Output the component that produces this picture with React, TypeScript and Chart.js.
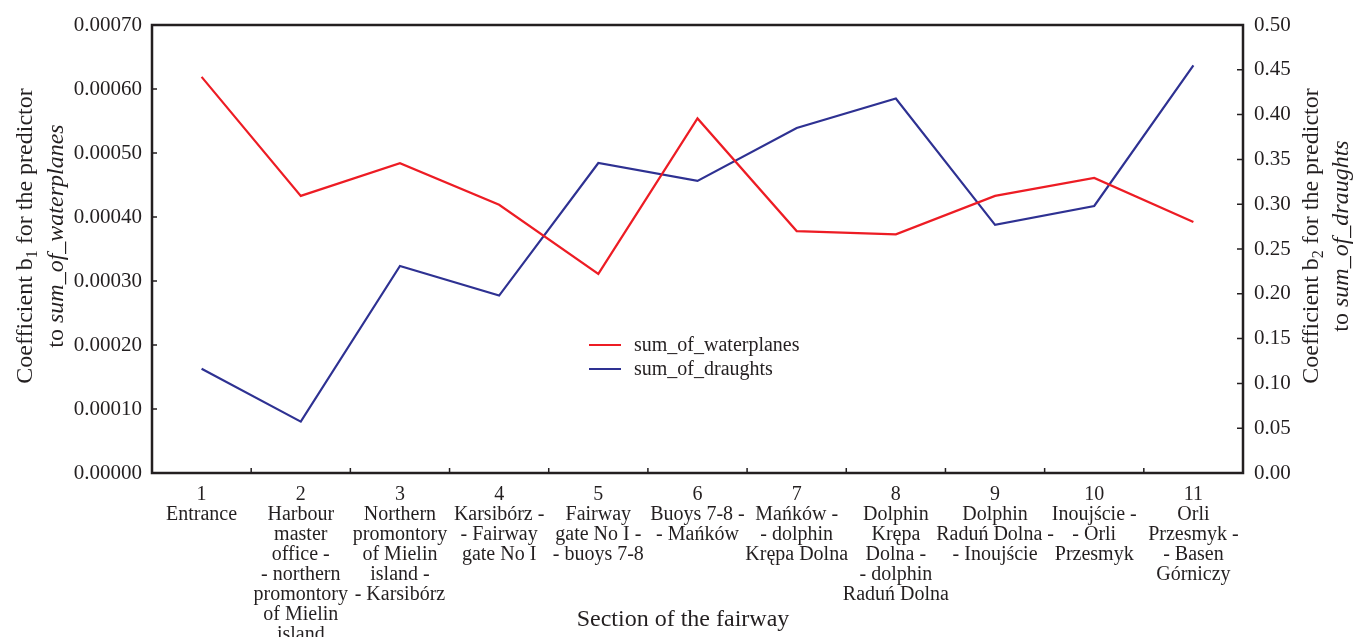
import React, { useEffect, useRef } from "react";
import { Chart, registerables } from "chart.js";
Chart.register(...registerables);

const sections: string[][] = [
  ["1", "Entrance"],
  ["2", "Harbour", "master", "office -", "- northern", "promontory", "of Mielin", "island"],
  ["3", "Northern", "promontory", "of Mielin", "island -", "- Karsibórz"],
  ["4", "Karsibórz -", "- Fairway", "gate No I"],
  ["5", "Fairway", "gate No I -", "- buoys 7-8"],
  ["6", "Buoys 7-8 -", "- Mańków"],
  ["7", "Mańków -", "- dolphin", "Krępa Dolna"],
  ["8", "Dolphin", "Krępa", "Dolna -", "- dolphin", "Raduń Dolna"],
  ["9", "Dolphin", "Raduń Dolna -", "- Inoujście"],
  ["10", "Inoujście -", "- Orli", "Przesmyk"],
  ["11", "Orli", "Przesmyk -", "- Basen", "Górniczy"],
];

const sumOfWaterplanes = [0.000619, 0.000433, 0.000484, 0.000419, 0.000311, 0.000554, 0.000378, 0.000373, 0.000433, 0.000461, 0.000392];
const sumOfDraughts = [0.1164, 0.0573, 0.231, 0.198, 0.346, 0.326, 0.385, 0.418, 0.277, 0.298, 0.455];

const leftTicks = [0, 0.0001, 0.0002, 0.0003, 0.0004, 0.0005, 0.0006, 0.0007];
const rightTicks = [0, 0.05, 0.1, 0.15, 0.2, 0.25, 0.3, 0.35, 0.4, 0.45, 0.5];

const seriesNames = ["sum_of_waterplanes", "sum_of_draughts"];
const xTitle = "Section of the fairway";

const RED = "#ed1c24";
const BLUE = "#2e3192";
const INK = "#231f20";
const FONT = '"Liberation Serif", "Times New Roman", serif';

type Seg = { t: string; italic?: boolean; sub?: boolean };

function drawRich(ctx: CanvasRenderingContext2D, segs: Seg[], size: number, x: number, y: number, rotate: boolean) {
  ctx.save();
  ctx.translate(x, y);
  if (rotate) ctx.rotate(-Math.PI / 2);
  const fontOf = (s: Seg) => `${s.italic ? "italic " : ""}${s.sub ? Math.round(size * 0.65) : size}px ${FONT}`;
  let w = 0;
  for (const s of segs) {
    ctx.font = fontOf(s);
    w += ctx.measureText(s.t).width;
  }
  let cx = -w / 2;
  ctx.textBaseline = "alphabetic";
  ctx.textAlign = "left";
  ctx.fillStyle = INK;
  for (const s of segs) {
    ctx.font = fontOf(s);
    ctx.fillText(s.t, cx, s.sub ? size * 0.22 : 0);
    cx += ctx.measureText(s.t).width;
  }
  ctx.restore();
}

const decor = {
  id: "decor",
  afterDatasetsDraw(chart: any) {
    const { ctx, chartArea: a, scales } = chart;
    ctx.save();
    ctx.strokeStyle = INK;
    ctx.lineWidth = 2.5;
    ctx.strokeRect(a.left, a.top, a.right - a.left, a.bottom - a.top);
    ctx.lineWidth = 1.5;
    ctx.beginPath();
    for (const v of leftTicks) {
      const p = scales.y.getPixelForValue(v);
      ctx.moveTo(a.left, p);
      ctx.lineTo(a.left + 5, p);
    }
    for (const v of rightTicks) {
      const p = scales.y1.getPixelForValue(v);
      ctx.moveTo(a.right, p);
      ctx.lineTo(a.right - 6, p);
    }
    for (let i = 0; i < sections.length - 1; i++) {
      const p = (scales.x.getPixelForValue(i) + scales.x.getPixelForValue(i + 1)) / 2;
      ctx.moveTo(p, a.bottom);
      ctx.lineTo(p, a.bottom - 5);
    }
    ctx.stroke();

    // legend
    const lx = 589, ly = 345, gap = 24;
    [RED, BLUE].forEach((c, i) => {
      ctx.strokeStyle = c;
      ctx.lineWidth = 2;
      ctx.beginPath();
      ctx.moveTo(lx, ly + i * gap);
      ctx.lineTo(lx + 32, ly + i * gap);
      ctx.stroke();
      ctx.fillStyle = INK;
      ctx.font = `20px ${FONT}`;
      ctx.textAlign = "left";
      ctx.textBaseline = "alphabetic";
      ctx.fillText(seriesNames[i], lx + 45, ly + 6 + i * gap);
    });

    // axis titles
    const size = 24;
    const cy = 236;
    drawRich(ctx, [{ t: "Coefficient b" }, { t: "1", sub: true }, { t: " for the predictor" }], size, 32, cy, true);
    drawRich(ctx, [{ t: "to " }, { t: seriesNames[0], italic: true }], size, 63, cy, true);
    drawRich(ctx, [{ t: "Coefficient b" }, { t: "2", sub: true }, { t: " for the predictor" }], size, 1318, cy, true);
    drawRich(ctx, [{ t: "to " }, { t: seriesNames[1], italic: true }], size, 1348, cy, true);
    drawRich(ctx, [{ t: xTitle }], size, 683, 626, false);
    ctx.restore();
  },
};

export default function App() {
  const ref = useRef<HTMLCanvasElement | null>(null);
  useEffect(() => {
    if (!ref.current) return;
    const chart = new Chart(ref.current, {
      type: "line",
      data: {
        labels: sections,
        datasets: [
          { label: seriesNames[0], data: sumOfWaterplanes, borderColor: RED, backgroundColor: RED, borderWidth: 2.2, pointRadius: 0, tension: 0, yAxisID: "y" },
          { label: seriesNames[1], data: sumOfDraughts, borderColor: BLUE, backgroundColor: BLUE, borderWidth: 2.2, pointRadius: 0, tension: 0, yAxisID: "y1" },
        ],
      },
      options: {
        animation: false,
        responsive: true,
        maintainAspectRatio: false,
        layout: { padding: { top: 25, left: 0, right: 0, bottom: 0 } },
        plugins: { legend: { display: false }, tooltip: { enabled: false }, title: { display: false } },
        scales: {
          x: {
            type: "category",
            offset: true,
            grid: { display: false, drawTicks: false },
            border: { display: false },
            ticks: { autoSkip: false, maxRotation: 0, minRotation: 0, padding: 12, color: INK, font: { family: FONT, size: 20, lineHeight: 1 } },
            afterFit: (s: any) => { s.height = 164; },
          },
          y: {
            position: "left",
            min: 0,
            max: 0.0007,
            grid: { display: false, drawTicks: false },
            border: { display: false },
            afterBuildTicks: (s: any) => { s.ticks = leftTicks.map((v) => ({ value: v })); },
            ticks: { padding: 10, color: INK, font: { family: FONT, size: 21 }, callback: (v: any) => Number(v).toFixed(5) },
            afterFit: (s: any) => { s.width = 152; },
          },
          y1: {
            position: "right",
            min: 0,
            max: 0.5,
            grid: { display: false, drawTicks: false },
            border: { display: false },
            afterBuildTicks: (s: any) => { s.ticks = rightTicks.map((v) => ({ value: v })); },
            ticks: { padding: 11, color: INK, font: { family: FONT, size: 21 }, callback: (v: any) => Number(v).toFixed(2) },
            afterFit: (s: any) => { s.width = 126; },
          },
        },
      },
      plugins: [decor],
    });
    return () => chart.destroy();
  }, []);
  return (
    <div style={{ position: "fixed", left: 0, top: 0, width: 1369, height: 637, background: "#fff" }}>
      <canvas ref={ref} />
    </div>
  );
}
